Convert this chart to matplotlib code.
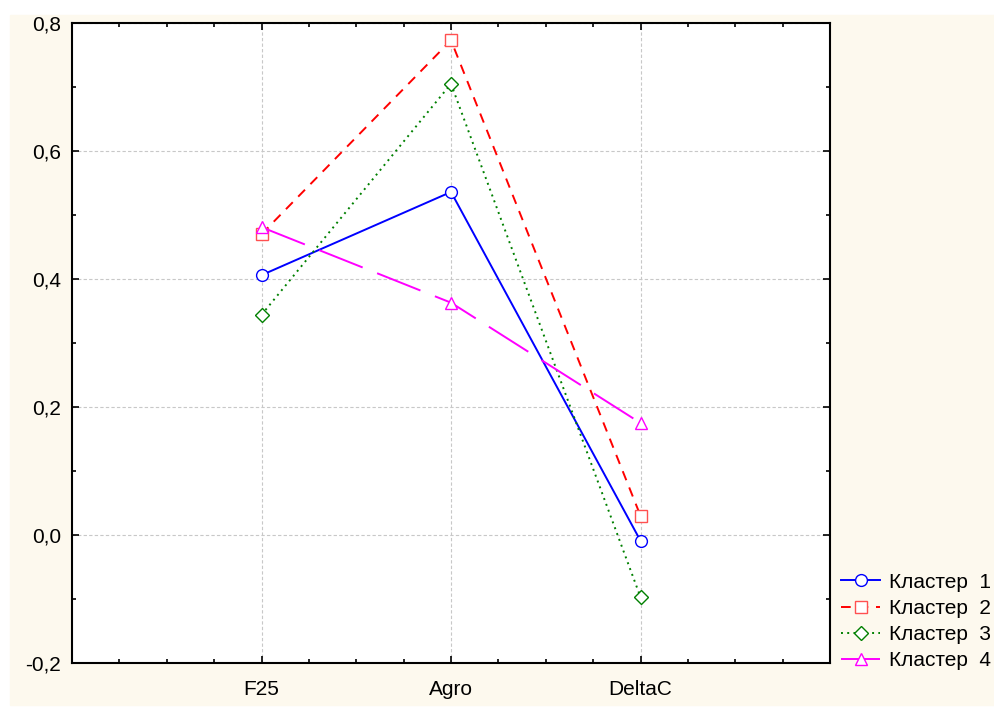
import matplotlib.pyplot as plt
from matplotlib.ticker import MultipleLocator, FuncFormatter

plt.rcParams['font.family'] = ['Liberation Sans', 'DejaVu Sans']

variables = ["F25", "Agro", "DeltaC"]
cluster1 = [0.406, 0.536, -0.009]
cluster2 = [0.470, 0.773, 0.030]
cluster3 = [0.344, 0.705, -0.097]
cluster4 = [0.481, 0.363, 0.175]
labels = ["Кластер  1", "Кластер  2", "Кластер  3", "Кластер  4"]

cream = "#fdf9ee"
fig = plt.figure(figsize=(9.95, 7.07), dpi=100)
# cream panel inside a thin white border
fig.patches.append(plt.Rectangle((10 / 995, 0.003), 0.99, 1 - 15 / 707 - 0.003,
                                 transform=fig.transFigure, color=cream, zorder=-10))
ax = fig.add_axes([72 / 995, 1 - 663 / 707, (830 - 72) / 995, (663 - 23) / 707])
ax.set_facecolor("white")

xs = [1, 2, 3]
ax.plot(xs, cluster1, color="blue", lw=1.4, marker="o", ms=8.5, mfc="white",
        mec="blue", mew=1.0, label=labels[0])
ax.plot(xs, cluster2, color="red", lw=1.4, ls=(0, (5, 4)), marker="s", ms=8,
        mfc="white", mec="#ff5050", mew=1.0, label=labels[1])
ax.plot(xs, cluster3, color="green", lw=1.4, ls=(0, (1, 2.2)), marker="D", ms=7,
        mfc="white", mec="green", mew=1.0, label=labels[2])
ax.plot(xs, cluster4, color="magenta", lw=1.4, ls=(0, (24, 8)), marker="^", ms=8.5,
        mfc="white", mec="magenta", mew=1.0, label=labels[3])

ax.set_xlim(0, 4)
ax.set_ylim(-0.2, 0.8)
ax.set_xticks(xs)
ax.set_xticklabels(variables)
ax.xaxis.set_minor_locator(MultipleLocator(0.25))
ax.yaxis.set_major_locator(MultipleLocator(0.2))
ax.yaxis.set_minor_locator(MultipleLocator(0.1))
ax.yaxis.set_major_formatter(FuncFormatter(lambda v, p: f"{v:.1f}".replace(".", ",")))
ax.tick_params(which="both", direction="in", top=True, right=True, width=1.2,
               labelsize=15, colors="black")
ax.tick_params(which="major", length=5)
ax.tick_params(which="minor", length=3)
ax.tick_params(axis="x", pad=12)
ax.tick_params(axis="y", pad=8)
ax.grid(True, which="major", color="#c8c8c8", ls=(0, (3, 2)), lw=0.8)
for s in ax.spines.values():
    s.set_linewidth(1.5)

ax.legend(loc="lower left", bbox_to_anchor=(1.015, -0.011), frameon=False,
          fontsize=15, handlelength=1.85, handletextpad=0.45, labelspacing=0.34,
          borderpad=0, borderaxespad=0)

fig.savefig("out.png", dpi=100, facecolor="white")
